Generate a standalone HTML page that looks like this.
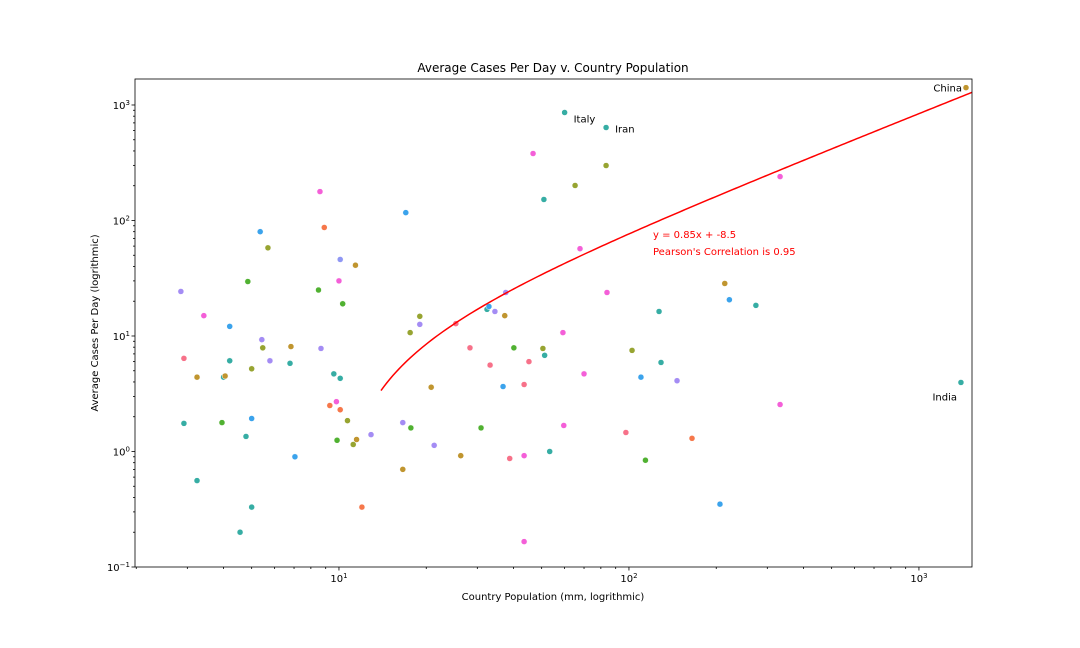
<!DOCTYPE html>
<html><head><meta charset="utf-8"><style>
html,body{margin:0;padding:0;background:#fff;}
svg{display:block;font-family:"DejaVu Sans","Liberation Sans",sans-serif;}
</style></head><body>
<svg id="chart" width="1080" height="648" viewBox="0 0 1080 648" xmlns="http://www.w3.org/2000/svg">
<rect width="1080" height="648" fill="#fff"/>
<text x="553" y="72" font-size="12" text-anchor="middle">Average Cases Per Day v. Country Population</text>
<text x="553" y="600" font-size="10" text-anchor="middle">Country Population (mm, logrithmic)</text>
<text transform="translate(98,323) rotate(-90)" font-size="10" text-anchor="middle">Average Cases Per Day (logrithmic)</text>
<g id="marks"></g>
<g id="axes"></g>
<text x="653" y="238" font-size="10" fill="red">y = 0.85x + -8.5</text>
<text x="653" y="255" font-size="10" fill="red">Pearson's Correlation is 0.95</text>
</svg>
<script>
const populations=[2.85,2.92,2.92,3.24,3.24,3.42,3.95,4.0,4.05,4.2,4.2,4.56,4.78,4.85,5.0,5.0,5.0,5.35,5.42,5.46,5.69,5.78,6.78,6.83,7.05,8.5,8.6,8.67,8.9,9.3,9.6,9.8,9.85,10,10.1,10.1,10.1,10.3,10.7,11.2,11.4,11.5,12.0,12.9,16.6,16.6,17.0,17.6,17.7,19.0,19.0,20.8,21.3,25.3,26.3,28.3,30.9,32.4,32.9,33.2,34.5,36.8,37.3,37.6,38.8,40.1,43.5,43.5,43.5,45.2,46.7,50.5,50.9,51.2,53.3,59.2,59.6,60.0,65.2,67.8,70,83.4,83.4,84,97.6,102.5,110,114,127,129,146.5,165,206,214,222,274,332,332,1396,1453];
const cases=[24.3,6.4,1.75,4.4,0.56,15.0,1.78,4.4,4.5,6.1,12.1,0.20,1.35,29.6,0.33,5.2,1.93,80,9.3,7.9,58,6.1,5.8,8.1,0.9,25,178,7.8,87,2.5,4.7,2.7,1.25,30,2.3,46,4.3,19,1.85,1.15,41,1.27,0.33,1.4,0.70,1.78,117,10.7,1.6,14.8,12.6,3.6,1.13,12.8,0.92,7.9,1.6,17,18,5.6,16.3,3.65,15,23.8,0.87,7.9,3.8,0.92,0.166,6.0,380,7.8,152,6.8,1.0,10.7,1.68,861,201,57,4.7,638,299,23.8,1.46,7.5,4.4,0.84,16.3,5.9,4.1,1.3,0.35,28.5,20.6,18.4,240,2.55,3.96,1413];
const colorKeys=["pu","sa","te","br","te","pk","gr","te","br","te","bl","te","te","gr","te","ol","bl","bl","pu","ol","ol","pu","te","br","bl","gr","pk","pu","or","or","te","pk","gr","pk","or","bp","te","gr","ol","ol","br","br","or","pu","br","pu","bl","ol","gr","ol","pu","br","pu","sa","br","sa","gr","te","bl","sa","pu","bl","br","pu","sa","gr","sa","pk","pk","sa","pk","ol","te","te","te","pk","pk","te","ol","pk","pk","te","ol","pk","sa","ol","bl","gr","te","te","pu","or","bl","br","bl","te","pk","pk","te","br"];
const palette={pu:"#a48cf4",sa:"#f77189",te:"#36ada4",br:"#c0952f",pk:"#f45fd8",gr:"#50b131",bl:"#3ba3ec",ol:"#97a431",or:"#f6774a",bp:"#8f97f4"};
const fitSlope=[0.85];
const fitIntercept=[-8.5];
const fitRange=[13.96,1524];
const xTicks=[1,2,3];
const yTicks=[-1,0,1,2,3];
const labelNames=["Italy","Iran","China","India"];
const labelIdx=[77,81,99,98];

const L=135,R=972,T=79,B=567;
const xMin=Math.log10(1.98),xMax=Math.log10(1524),yMin=-1,yMax=3.225;
const X=v=>L+(Math.log10(v)-xMin)/(xMax-xMin)*(R-L);
const Y=v=>B-(Math.log10(v)-yMin)/(yMax-yMin)*(B-T);
const NS="http://www.w3.org/2000/svg";
const mk=(t,a,p)=>{const e=document.createElementNS(NS,t);for(const k in a)e.setAttribute(k,a[k]);p.appendChild(e);return e;};
const marks=document.getElementById('marks'),axes=document.getElementById('axes');

populations.forEach((p,i)=>{
  const c=mk('circle',{cx:X(p),cy:Y(cases[i]),r:3,fill:palette[colorKeys[i]],stroke:"#fff","stroke-width":0.5},marks);
  
  
});
let d="";
for(let k=0;k<=200;k++){
  const lx=Math.log10(fitRange[0])+(Math.log10(fitRange[1])-Math.log10(fitRange[0]))*k/200;
  const x=Math.pow(10,lx),y=fitSlope[0]*x+fitIntercept[0];
  if(y<=0)continue;
  d+=(d?"L":"M")+X(x).toFixed(2)+","+Y(y).toFixed(2);
}
const fl=mk('path',{d:d,fill:"none",stroke:"red","stroke-width":1.5},marks);



labelNames.forEach((n,j)=>{
  const i=labelIdx[j];
  const px=X(populations[i]),py=Y(cases[i]);
  let x=px+9,y=py+10,anchor="start";
  if(n==="China"){x=px-4;y=py+4;anchor="end";}
  if(n==="India"){x=px-4;y=py+18;anchor="end";x=957;}
  if(n==="Iran"){x=px+9;y=py+5;}
  const t=mk('text',{x:x,y:y,"font-size":10,"text-anchor":anchor},marks);
  t.textContent=n;
  
  
});

const frame=mk('rect',{x:L,y:T,width:R-L,height:B-T,fill:"none",stroke:"#000","stroke-width":0.8},axes);


// x ticks
for(let e=0;e<=3;e++){for(let m=1;m<10;m++){
  const v=m*Math.pow(10,e);const x=X(v);
  if(x<L-0.5||x>R+0.5)continue;
  mk('line',{x1:x,x2:x,y1:B,y2:B+(m===1?3.5:2),stroke:"#000","stroke-width":0.8},axes);
}}
xTicks.forEach(e=>{
  const t=mk('text',{x:X(Math.pow(10,e)),y:B+15,"font-size":10,"text-anchor":"middle"},axes);
  t.innerHTML='10<tspan font-size="7" dy="-4">'+e+'</tspan>';
  
  
});
for(let e=-1;e<=3;e++){for(let m=1;m<10;m++){
  const v=m*Math.pow(10,e);const y=Y(v);
  if(y<T-0.5||y>B+0.5)continue;
  mk('line',{x1:L,x2:L-(m===1?3.5:2),y1:y,y2:y,stroke:"#000","stroke-width":0.8},axes);
}}
yTicks.forEach(e=>{
  const t=mk('text',{x:L-5,y:Y(Math.pow(10,e))+4,"font-size":10,"text-anchor":"end"},axes);
  t.innerHTML='10<tspan font-size="7" dy="-4">'+(e<0?'\u2212'+(-e):e)+'</tspan>';
  
  
});
</script>
</body></html>
